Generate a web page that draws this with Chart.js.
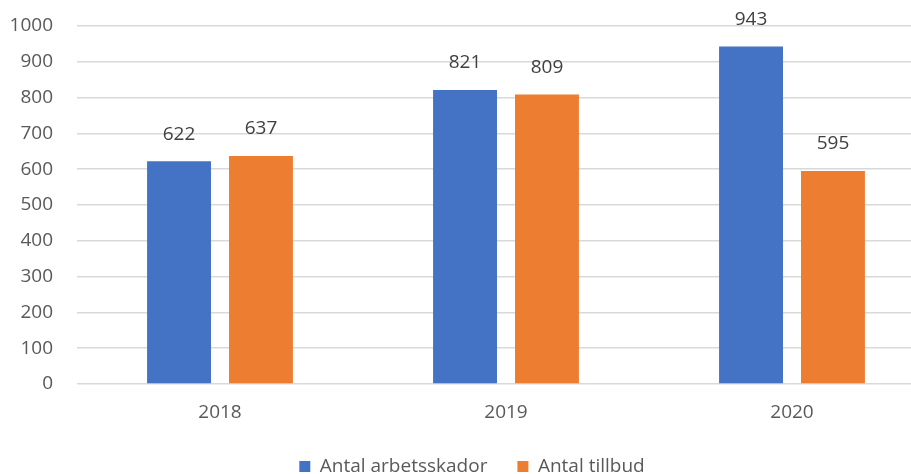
<!DOCTYPE html>
<html>
<head>
<meta charset="utf-8">
<script src="https://cdn.jsdelivr.net/npm/chart.js@4/dist/chart.umd.min.js"></script>
<style>
html,body{margin:0;padding:0;background:#fff;overflow:hidden;}
#wrap{position:relative;width:963px;height:474px;}
</style>
</head>
<body>
<div id="wrap"><canvas id="c"></canvas></div>
<script>
const categories = ["2018", "2019", "2020"];
const seriesNames = ["Antal arbetsskador", "Antal tillbud"];
const arbetsskador = [622, 821, 943];
const tillbud = [637, 809, 595];
const yTicks = [0, 100, 200, 300, 400, 500, 600, 700, 800, 900, 1000];

const FONT = "'Open Sans', 'Noto Sans', sans-serif";
const TEXT = '#595959';

const valueLabels = {
  id: 'valueLabels',
  afterDatasetsDraw(chart) {
    const ctx = chart.ctx;
    ctx.save();
    ctx.font = '19px ' + FONT;
    ctx.fillStyle = '#404040';
    ctx.textAlign = 'center';
    ctx.textBaseline = 'middle';
    chart.data.datasets.forEach((ds, i) => {
      chart.getDatasetMeta(i).data.forEach((bar, j) => {
        ctx.fillText(String(ds.data[j]), bar.x, bar.y - 27);
      });
    });
    ctx.restore();
  }
};

const legendHeight = {
  id: 'legendHeight',
  afterInit(chart) {
    const lg = chart.legend;
    if (!lg) return;
    const orig = lg.fit.bind(lg);
    lg.fit = function () { orig(); this.height = 47; };
  }
};

new Chart(document.getElementById('c'), {
  type: 'bar',
  data: {
    labels: categories,
    datasets: [
      { label: seriesNames[0], data: arbetsskador, backgroundColor: '#4472C4' },
      { label: seriesNames[1], data: tillbud, backgroundColor: '#ED7D31' }
    ]
  },
  options: {
    responsive: true,
    maintainAspectRatio: false,
    animation: false,
    datasets: { bar: { categoryPercentage: 0.573, barPercentage: 0.78 } },
    layout: { padding: { left: 9, right: 28, top: 26, bottom: 0 } },
    plugins: {
      legend: {
        position: 'bottom',
        labels: { boxWidth: 11, boxHeight: 11, padding: 30, color: TEXT, font: { family: FONT, size: 19 } }
      },
      tooltip: { enabled: false }
    },
    scales: {
      x: {
        grid: { display: false, drawTicks: false },
        border: { display: false },
        ticks: { color: TEXT, font: { family: FONT, size: 19 }, padding: 17 },
        afterFit(axis) { axis.height = 43; }
      },
      y: {
        min: 0, max: 1000,
        afterBuildTicks(axis) { axis.ticks = yTicks.map(v => ({ value: v })); },
        grid: { color: '#d9d9d9', lineWidth: 1.5, drawTicks: false },
        border: { display: false },
        ticks: { color: TEXT, font: { family: FONT, size: 19 }, padding: 24, callback: (v) => String(v) },
        afterFit(axis) { axis.width = 68; axis.paddingTop = 0; axis.paddingBottom = 0; }
      }
    }
  },
  plugins: [valueLabels, legendHeight]
});
</script>
</body>
</html>
